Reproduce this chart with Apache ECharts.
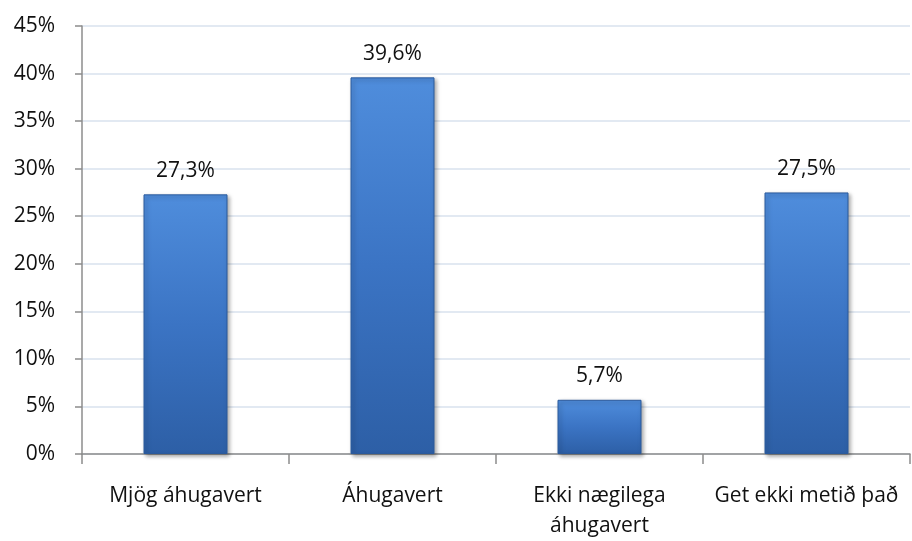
<!DOCTYPE html>
<html>
<head>
<meta charset="utf-8">
<script src="https://cdn.jsdelivr.net/npm/echarts@6/dist/echarts.min.js"></script>
<style>
  html, body { margin: 0; padding: 0; background: #fff; }
  #main { width: 912px; height: 541px; }
</style>
</head>
<body>
<div id="main"></div>
<script>
// categories and values (percent)
const categories = ['Mjög áhugavert', 'Áhugavert', 'Ekki nægilega\náhugavert', 'Get ekki metið það']
const values = [27.3, 39.6, 5.7, 27.5]
const yTicks = [0, 5, 10, 15, 20, 25, 30, 35, 40, 45]

const font = '"Open Sans", "DejaVu Sans", sans-serif'
const fmtPct = v => String(v).replace('.', ',') + '%'

var myChart = echarts.init(document.getElementById('main'))
var option = {
  animation: false,
  grid: { left: 82, right: 2, top: 26, bottom: 87, containLabel: false },
  xAxis: {
    type: 'category',
    data: categories,
    axisLine: { lineStyle: { color: '#8c8c8c', width: 1.5 } },
    axisTick: { show: true, length: 10, lineStyle: { color: '#8c8c8c', width: 1.5 } },
    axisLabel: { color: '#111', fontSize: 21, fontFamily: font, margin: 27, lineHeight: 30, interval: 0 }
  },
  yAxis: {
    type: 'value',
    min: yTicks[0],
    max: yTicks[yTicks.length - 1],
    interval: 5,
    axisLine: { show: true, lineStyle: { color: '#8c8c8c', width: 1.5 } },
    axisTick: { show: true, length: 7, lineStyle: { color: '#8c8c8c', width: 1.5 } },
    axisLabel: { color: '#111', fontSize: 21, fontFamily: font, margin: 27, formatter: v => v + '%' },
    splitLine: { lineStyle: { color: '#d8e2ee', width: 1.5 } }
  },
  series: [{
    type: 'bar',
    data: values,
    barWidth: 84,
    itemStyle: {
      color: new echarts.graphic.LinearGradient(0, 0, 0, 1, [
        { offset: 0, color: '#4f8ddc' },
        { offset: 0.5, color: '#3b74c4' },
        { offset: 1, color: '#2d5fa6' }
      ]),
      borderColor: '#2b5a9c',
      borderWidth: 1,
      shadowColor: 'rgba(0,0,0,0.35)',
      shadowBlur: 4,
      shadowOffsetX: 2,
      shadowOffsetY: 2
    },
    label: {
      show: true,
      position: 'top',
      distance: 13,
      color: '#111',
      fontSize: 21,
      fontFamily: font,
      formatter: p => fmtPct(p.value)
    }
  }]
}
myChart.setOption(option)
</script>
</body>
</html>
